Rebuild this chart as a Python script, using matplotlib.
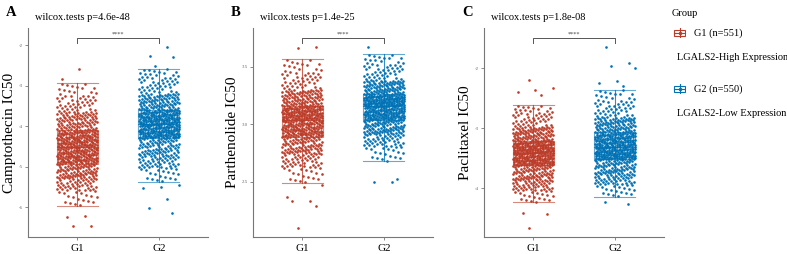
import numpy as np
import matplotlib
matplotlib.use("Agg")
import matplotlib.pyplot as plt
import matplotlib.transforms as mtransforms

plt.rcParams['font.family'] = ['Liberation Serif', 'DejaVu Serif']

# ---------------- data ----------------
groups = ["G1", "G2"]
group_n = [551, 550]
group_desc = ["LGALS2-High Expression", "LGALS2-Low Expression"]
panel_letters = ["A", "B", "C"]
drugs = ["Camptothecin", "Parthenolide", "Paclitaxel"]
p_texts = ["wilcox.tests p=4.6e-48", "wilcox.tests p=1.4e-25", "wilcox.tests p=1.8e-08"]
signif = ["****", "****", "****"]

# quantile levels for the non-outlier body of each group
q_levels = [0.0, 0.03, 0.10, 0.25, 0.50, 0.75, 0.90, 0.97, 1.0]

# Camptothecin
camp_g1_q = [-5.96, -5.60, -5.30, -4.92, -4.51, -4.10, -3.65, -3.25, -2.94]
camp_g2_q = [-5.37, -5.05, -4.75, -4.29, -3.95, -3.60, -3.20, -2.80, -2.59]
camp_g1_out = [-2.59, -2.84, -6.22, -6.24, -6.47, -6.46]
camp_g2_out = [-2.05, -2.28, -2.30, -2.52, -5.45, -5.49, -5.53, -5.80, -6.02, -6.14]

# Parthenolide
parth_g1_q = [2.49, 2.62, 2.74, 2.89, 3.04, 3.163, 3.30, 3.45, 3.564]
parth_g2_q = [2.68, 2.80, 2.91, 3.035, 3.157, 3.26, 3.38, 3.52, 3.61]
parth_g1_out = [3.67, 3.66, 2.47, 2.455, 2.37, 2.33, 2.33, 2.29, 2.10]
parth_g2_out = [3.668, 2.50, 2.50, 2.52]

# Paclitaxel
pacl_g1_q = [-4.23, -4.05, -3.88, -3.62, -3.41, -3.21, -2.98, -2.75, -2.62]
pacl_g2_q = [-4.14, -3.95, -3.78, -3.52, -3.31, -3.07, -2.82, -2.55, -2.36]
pacl_g1_out = [-2.19, -2.33, -2.36, -2.40, -2.45, -4.41, -4.42, -4.66]
pacl_g2_out = [-1.65, -1.92, -1.97, -2.00, -2.22, -2.25, -2.30, -4.22, -4.26]

box_stats = [
    [camp_g1_q, camp_g2_q],
    [parth_g1_q, parth_g2_q],
    [pacl_g1_q, pacl_g2_q],
]
outliers = [
    [camp_g1_out, camp_g2_out],
    [parth_g1_out, parth_g2_out],
    [pacl_g1_out, pacl_g2_out],
]

y_ticks = [[-2, -3, -4, -5, -6], [3.5, 3.0, 2.5], [-2, -3, -4]]
y_tick_labels = [["-2", "-3", "-4", "-5", "-6"], ["3.5", "3.0", "2.5"], ["-2", "-3", "-4"]]
y_limits = [(-6.73, -1.58), (2.02, 3.837), (-4.81, -1.333)]

colors = ["#BC3C29", "#0072B5"]

# ---------------- figure ----------------
W, H = 787, 254
fig = plt.figure(figsize=(W / 100, H / 100), dpi=100)

ax_left_px = [28, 253, 484]
ax_w_px = 180
ax_top_px, ax_bot_px = 28, 237

phi1, phi2 = 0.7548776662466927, 0.5698402909980532


def body_values(q, n):
    i = np.arange(1, n + 1)
    p = (i * phi1) % 1.0
    u = (i * phi2) % 1.0
    return np.interp(p, q_levels, q), u


for k in range(3):
    ax = fig.add_axes([ax_left_px[k] / W, (H - ax_bot_px) / H,
                       ax_w_px / W, (ax_bot_px - ax_top_px) / H])
    ax.set_xlim(0.4, 2.6)
    ax.set_ylim(*y_limits[k])
    for g in range(2):
        xc = g + 1
        q = box_stats[k][g]
        outs = outliers[k][g]
        n_body = group_n[g] - len(outs)
        vals, u = body_values(q, n_body)
        xs = xc + (u - 0.5) * 0.5
        allv = np.concatenate([vals, outs])
        j = np.arange(len(outs)) + n_body + 7
        xo = xc + (((j * phi2) % 1.0) - 0.5) * 0.5
        allx = np.concatenate([xs, xo])
        c = colors[g]
        # box
        wlo, q1, med, q3, whi = q[0], q[3], q[4], q[5], q[8]
        bw = 0.5
        lw = 0.8
        ax.plot([xc, xc], [wlo, whi], color=c, lw=lw, alpha=0.8, zorder=1)
        ax.plot([xc - bw / 2, xc + bw / 2], [wlo, wlo], color=c, lw=lw, alpha=0.6, zorder=1)
        ax.plot([xc - bw / 2, xc + bw / 2], [whi, whi], color=c, lw=lw, alpha=0.6, zorder=1)
        ax.add_patch(plt.Rectangle((xc - bw / 2, q1), bw, q3 - q1, fill=False,
                                   edgecolor=c, lw=lw, alpha=0.6, zorder=1))
        ax.plot([xc - bw / 2, xc + bw / 2], [med, med], color=c, lw=lw, alpha=0.8, zorder=3)
        ax.scatter(allx, allv, s=3.6, color=c, linewidths=0, zorder=2)

    # bracket
    tr = mtransforms.blended_transform_factory(ax.transData, ax.transAxes)
    yb = (ax_bot_px - 38) / (ax_bot_px - ax_top_px)
    yd = (ax_bot_px - 43) / (ax_bot_px - ax_top_px)
    ax.plot([1, 1, 2, 2], [yd, yb, yb, yd], transform=tr, color="#555555", lw=0.7,
            clip_on=False)
    ax.text(1.5, yb + 0.005, signif[k], transform=tr, ha="center", va="bottom",
            fontsize=4.5, color="#444444")

    # axes styling
    for s in ["top", "right"]:
        ax.spines[s].set_visible(False)
    for s in ["left", "bottom"]:
        ax.spines[s].set_color("#777777")
        ax.spines[s].set_linewidth(0.8)
    ax.set_xticks([1, 2])
    ax.set_xticklabels(groups, fontsize=8)
    ax.set_yticks(y_ticks[k])
    ax.set_yticklabels(y_tick_labels[k], fontsize=3.5, color="#666666")
    ax.tick_params(axis="both", length=2, width=0.6, color="#777777", pad=1.5)
    ax.tick_params(axis="x", pad=3)
    ax.set_ylabel(drugs[k] + " IC50", fontsize=11, labelpad=2)

    # title and panel letter
    fig.text((ax_left_px[k] + 7) / W, 1 - 18 / H, p_texts[k], fontsize=7.5,
             ha="left", va="center")
    fig.text((ax_left_px[k] - 22) / W, 1 - 12 / H, panel_letters[k], fontsize=10.5,
             fontweight="bold", ha="left", va="center")

# ---------------- legend ----------------
fig.text(672 / W, 1 - 14 / H, "Group", fontsize=7.5, ha="left", va="center")
key_y = [33, 89]
desc_y = [58, 113]
for g in range(2):
    kx0, kx1 = 673, 686
    yy = key_y[g]
    c = colors[g]
    kax = fig.add_axes([kx0 / W, 1 - (yy + 5) / H, (kx1 - kx0) / W, 10 / H])
    kax.set_xlim(0, 1)
    kax.set_ylim(0, 1)
    kax.axis("off")
    kax.add_patch(plt.Rectangle((0.05, 0.2), 0.9, 0.6, fill=False, edgecolor=c, lw=0.8))
    kax.plot([0.05, 0.95], [0.5, 0.5], color=c, lw=0.8)
    kax.plot([0.5, 0.5], [0.0, 1.0], color=c, lw=0.8)
    kax.plot([0.5], [0.5], marker="o", ms=1.5, color=c)
    fig.text(694 / W, 1 - yy / H, f"{groups[g]} (n={group_n[g]})", fontsize=7.5,
             ha="left", va="center")
    fig.text(677 / W, 1 - desc_y[g] / H, group_desc[g], fontsize=7.5,
             ha="left", va="center")

fig.savefig("out.png", dpi=100)
